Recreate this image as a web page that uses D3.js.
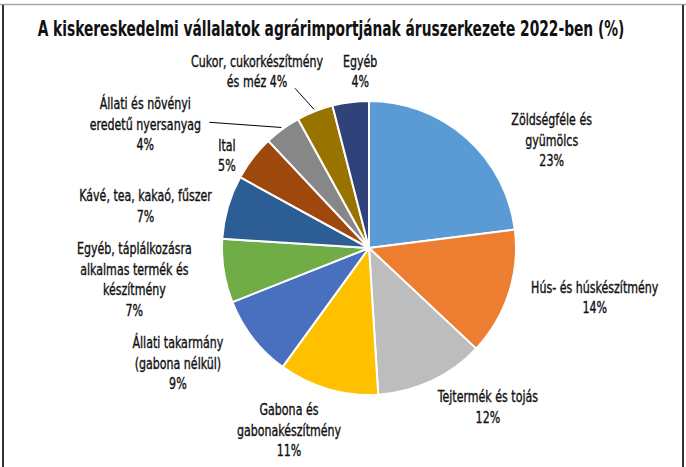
<!DOCTYPE html>
<html>
<head>
<meta charset="utf-8">
<script src="https://cdn.jsdelivr.net/npm/d3@7"></script>
<style>
  html, body { margin: 0; padding: 0; background: #fff; }
  svg { display: block; }
  text { font-family: "Liberation Sans Narrow", "DejaVu Sans Condensed", "Roboto Condensed", Roboto, sans-serif; font-stretch: condensed; fill: #111; }
  text.lbl { stroke: #111; stroke-width: 0.35px; }
</style>
</head>
<body>
<svg id="chart" width="686" height="467"></svg>
<script>
// ---- data ----
const title = "A kiskereskedelmi vállalatok agrárimportjának áruszerkezete 2022-ben (%)";
const categories = [
  ["Zöldségféle és", "gyümölcs"],
  ["Hús- és húskészítmény"],
  ["Tejtermék és tojás"],
  ["Gabona és", "gabonakészítmény"],
  ["Állati takarmány", "(gabona nélkül)"],
  ["Egyéb, táplálkozásra", "alkalmas termék és", "készítmény"],
  ["Kávé, tea, kakaó, fűszer"],
  ["Ital"],
  ["Állati és növényi", "eredetű nyersanyag"],
  ["Cukor, cukorkészítmény", "és méz"],
  ["Egyéb"]
];
const values = [23, 14, 12, 11, 9, 7, 7, 5, 4, 4, 4];
const colors = ["#5B9BD5", "#ED7D31", "#BDBDBD", "#FFC000", "#4870BE", "#70AD47",
                "#2D5D95", "#9E480E", "#878787", "#997300", "#2F4279"];

// ---- layout (label nudges from the label-ring point, leader lines) ----
const labelNudge = [[57, 35], [45, -9], [38, -13], [-27, 0], [-41, -1], [-47, 2],
                    [-41, 11], [8, 24], [-112, 30], [-42, 0], [15, 12]];
const percentInline = [false, false, false, false, false, false, false, false, false, true, false];
const leaderStart = {8: [64, -2], 9: [38, 17]};

const W = 686, H = 467;
const cx = 369, cy = 248, R = 147, labelR = 190;
const squeeze = 0.82;
const svg = d3.select("#chart");

// frame
svg.append("line").attr("x1", 0).attr("x2", W).attr("y1", 4.5).attr("y2", 4.5)
  .attr("stroke", "#a6a6a6").attr("stroke-width", 1.5);
svg.append("line").attr("x1", 3).attr("x2", 3).attr("y1", 5).attr("y2", H)
  .attr("stroke", "#333").attr("stroke-width", 2);
svg.append("line").attr("x1", 683).attr("x2", 683).attr("y1", 5).attr("y2", H)
  .attr("stroke", "#333").attr("stroke-width", 2);

// title, condensed to the reference width
const tg = svg.append("g");
const tt = tg.append("text").attr("x", 0).attr("y", 0).attr("text-anchor", "middle")
  .attr("font-size", 21).attr("font-weight", "bold").text(title);
const natural = tt.node().getComputedTextLength();
const tScale = Math.min(1, 587 / natural);
tg.attr("transform", `translate(331,36) scale(${tScale},1)`);

const pie = d3.pie().sort(null).value(d => d)(values);
const arc = d3.arc().innerRadius(0).outerRadius(R);
const g = svg.append("g").attr("transform", `translate(${cx},${cy})`);

g.selectAll("path.slice").data(pie).join("path")
  .attr("class", "slice")
  .attr("d", arc)
  .attr("fill", (d, i) => colors[i])
  .attr("stroke", "#fff").attr("stroke-width", 2).attr("stroke-linejoin", "round");

function polar(a, r) { return [Math.sin(a) * r, -Math.cos(a) * r]; }

const lineH = 20.5;
pie.forEach((d, i) => {
  const mid = (d.startAngle + d.endAngle) / 2;
  const p = polar(mid, labelR);
  const lx = p[0] + labelNudge[i][0];
  const ly = p[1] + labelNudge[i][1];
  const lines = categories[i].slice();
  const pct = values[i] + "%";
  if (percentInline[i]) lines[lines.length - 1] += " " + pct; else lines.push(pct);
  const n = lines.length;
  const lg = g.append("g").attr("transform", `translate(${lx},${ly}) scale(${squeeze},1)`);
  const t = lg.append("text").attr("class", "lbl").attr("text-anchor", "middle").attr("font-size", 15);
  lines.forEach((s, k) => {
    t.append("tspan").attr("x", 0)
      .attr("y", (k - (n - 1) / 2) * lineH + 5.5)
      .text(s);
  });
  if (leaderStart[i]) {
    const e = polar(mid, R + 2);
    g.append("line")
      .attr("x1", lx + leaderStart[i][0]).attr("y1", ly + leaderStart[i][1])
      .attr("x2", e[0]).attr("y2", e[1])
      .attr("stroke", "#000").attr("stroke-width", 1);
  }
});
</script>
</body>
</html>
